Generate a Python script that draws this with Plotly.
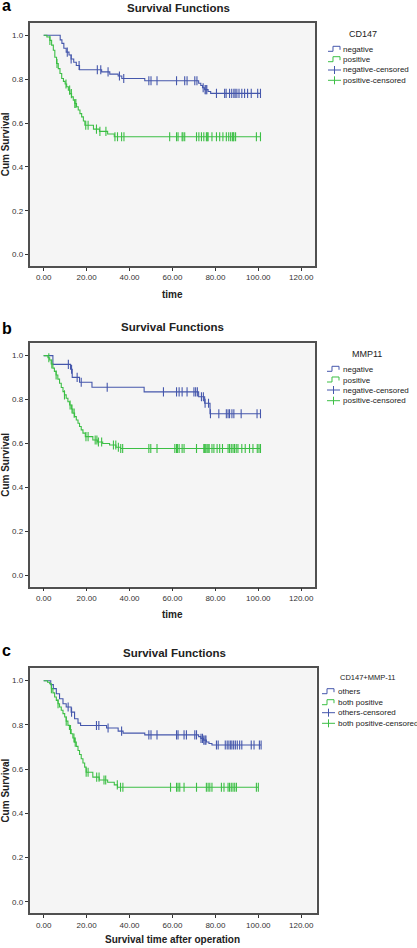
import numpy as np
import plotly.graph_objects as go

# ---------------- data ----------------
# Panel a : CD147
A_NEG_T = [0, 7.7, 8.5, 9.4, 10.5, 11.8, 12.8, 14.0, 15.2, 16.7, 27.0, 30.8, 34.7, 36.4, 47.1,
           72.2, 73.2, 74.0, 75.0, 76.6, 77.8, 101.0]
A_NEG_S = [1.0, 0.979, 0.963, 0.941, 0.923, 0.910, 0.892, 0.877, 0.862, 0.843, 0.833, 0.823, 0.814,
           0.803, 0.793, 0.781, 0.771, 0.761, 0.752, 0.744, 0.735, 0.735]
A_NEG_C = [11.0, 12.8, 16.5, 25.0, 26.6, 30.0, 35.3, 37.3, 49.0, 50.0, 52.8, 61.9, 65.7, 66.8, 70.4,
           71.4, 74.3, 75.2, 75.6, 76.0, 80.5, 84.3, 85.0, 86.6, 87.6, 88.6, 89.2, 90.0, 91.0, 92.3,
           93.6, 95.0, 96.7, 99.7, 101.0]
A_POS_T = [0, 1.5, 2.9, 3.7, 4.5, 5.2, 6.0, 6.8, 7.6, 8.4, 9.2, 10.0, 10.7, 11.5, 12.2, 13.0, 13.8,
           14.5, 15.3, 16.1, 16.9, 17.7, 18.5, 19.2, 23.2, 26.0, 29.8, 32.9, 101.0]
A_POS_S = [1.0, 0.992, 0.977, 0.955, 0.932, 0.900, 0.871, 0.848, 0.826, 0.803, 0.790, 0.778, 0.765,
           0.750, 0.734, 0.719, 0.704, 0.689, 0.674, 0.659, 0.643, 0.628, 0.609, 0.590, 0.572,
           0.562, 0.550, 0.537, 0.537]
A_POS_C = [2.9, 6.2, 10.4, 12.1, 12.9, 14.5, 15.0, 19.6, 20.7, 24.6, 26.2, 29.0, 33.2, 34.4, 36.3,
           37.4, 58.7, 61.9, 62.6, 64.5, 64.9, 65.7, 71.2, 72.3, 73.5, 74.6, 75.8, 76.2, 76.6, 78.4,
           80.5, 82.0, 83.5, 85.1, 86.2, 87.1, 87.9, 88.3, 88.6, 89.4, 99.1, 101.0]

# Panel b : MMP11
B_NEG_T = [0, 4.3, 12.5, 13.3, 16.7, 22.5, 46.8, 72.2, 75.0, 77.5, 101.0]
B_NEG_S = [1.0, 0.960, 0.938, 0.901, 0.879, 0.856, 0.835, 0.813, 0.783, 0.735, 0.735]
B_NEG_C = [11.5, 13.0, 15.6, 17.5, 29.6, 55.8, 61.9, 63.1, 64.5, 66.8, 70.0, 70.8, 71.6, 73.5,
           74.4, 75.2, 76.8, 77.7, 81.6, 85.1, 85.9, 86.6, 87.7, 88.6, 92.0, 99.4, 101.0]
B_POS_T = [0, 2.0, 2.8, 3.5, 4.3, 5.0, 5.8, 6.6, 7.4, 8.2, 9.0, 9.7, 10.5, 11.3, 12.1, 12.9, 13.6,
           14.4, 15.2, 16.0, 16.7, 17.5, 18.3, 19.4, 22.9, 25.0, 27.5, 30.7, 33.7, 35.8, 101.0]
B_POS_S = [1.0, 0.990, 0.980, 0.962, 0.943, 0.928, 0.912, 0.893, 0.874, 0.855, 0.836, 0.821, 0.806,
           0.790, 0.775, 0.757, 0.738, 0.722, 0.707, 0.692, 0.677, 0.662, 0.647, 0.631, 0.616,
           0.607, 0.600, 0.593, 0.583, 0.577, 0.577]
B_POS_C = [2.4, 3.8, 5.8, 9.7, 12.3, 13.2, 14.2, 19.7, 20.7, 24.0, 24.8, 25.5, 27.0, 32.5, 33.6,
           34.8, 35.9, 36.8, 49.0, 49.9, 52.8, 61.1, 61.9, 62.3, 63.1, 64.5, 65.4, 71.2, 74.6, 75.0,
           75.5, 76.1, 76.6, 77.1, 78.4, 79.3, 80.8, 82.0, 83.3, 85.9, 86.6, 87.4, 88.2, 88.9, 89.7,
           90.5, 92.3, 93.9, 95.9, 97.5, 99.5, 100.3, 101.0]

# Panel c : CD147+MMP-11
C_OTH_T = [0, 3.3, 4.5, 5.9, 7.4, 9.0, 10.5, 12.8, 14.4, 16.0, 17.2, 29.3, 34.7, 37.0, 47.1, 72.2,
           73.2, 74.5, 75.8, 77.0, 78.4, 101.3]
C_OTH_S = [1.0, 0.982, 0.964, 0.941, 0.918, 0.896, 0.881, 0.858, 0.828, 0.808, 0.797, 0.786, 0.772,
           0.763, 0.755, 0.747, 0.739, 0.731, 0.723, 0.716, 0.709, 0.709]
C_OTH_C = [11.4, 13.0, 24.6, 25.7, 30.0, 36.3, 49.0, 50.0, 52.8, 61.9, 62.6, 65.4, 66.5, 70.4, 71.2,
           73.3, 74.0, 74.6, 75.2, 75.6, 80.5, 81.3, 84.6, 85.5, 86.3, 87.1, 87.7, 88.5, 89.3, 90.2,
           91.3, 92.3, 96.7, 98.0, 100.5, 101.3]
C_POS_T = [0, 1.8, 2.8, 3.6, 4.3, 5.1, 5.9, 6.7, 7.4, 8.2, 9.0, 9.8, 10.5, 11.3, 12.0, 12.8, 13.6,
           14.4, 15.2, 16.0, 16.7, 17.5, 18.3, 19.1, 19.8, 22.9, 25.9, 29.8, 32.9, 34.4, 100.0]
C_POS_S = [1.0, 0.993, 0.986, 0.964, 0.945, 0.926, 0.911, 0.896, 0.881, 0.866, 0.851, 0.836, 0.817,
           0.798, 0.779, 0.760, 0.741, 0.722, 0.703, 0.684, 0.666, 0.647, 0.628, 0.609, 0.586,
           0.564, 0.551, 0.541, 0.529, 0.518, 0.518]
C_POS_C = [3.6, 6.7, 10.5, 12.5, 14.1, 14.7, 19.8, 20.7, 24.7, 25.8, 28.1, 28.9, 34.3, 35.8, 36.9,
           59.1, 61.9, 62.6, 63.4, 65.4, 71.2, 75.8, 76.6, 77.4, 78.4, 82.8, 84.0, 85.9, 86.6, 87.4,
           88.2, 89.0, 89.8, 99.1, 100.0]

PANEL_LETTERS = ["a", "b", "c"]
LEGEND_TITLES = ["CD147", "MMP11", "CD147+MMP-11"]
GROUP_NAMES = [["negative", "positive"], ["negative", "positive"], ["others", "both positive"]]
X_TITLES = ["time", "time", "Survival time after operation"]
CHART_TITLE = "Survival Functions"
Y_TITLE = "Cum Survival"

# ---------------- styling / layout ----------------
W, H = 417, 948
BLUE = "#4557ac"
GREEN = "#3cbf45"
FONT = "Liberation Sans, Arial, sans-serif"
TXT = "#222222"


def px(x):
    return x / W


def py(y):
    return 1 - y / H


panels = [
    dict(box=(29.5, 23.0, 315.0, 266.0), xr=[-6.6, 126.4],
         letter_y=5.5, title=(178.8, 7.7), xt_y=294.5,
         lg_title=(362.7, 34.0, 9), lg_x=328.0, lg_tx=341.7, lg_y=[49.3, 59.7, 70.0, 80.3],
         data=(A_NEG_T, A_NEG_S, A_NEG_C, A_POS_T, A_POS_S, A_POS_C)),
    dict(box=(29.5, 343.3, 315.0, 586.7), xr=[-6.6, 126.4],
         letter_y=329.0, title=(172.0, 326.7), xt_y=614.8,
         lg_title=(366.7, 354.0, 9), lg_x=327.0, lg_tx=341.7, lg_y=[369.3, 380.0, 390.0, 400.7],
         data=(B_NEG_T, B_NEG_S, B_NEG_C, B_POS_T, B_POS_S, B_POS_C)),
    dict(box=(29.5, 668.3, 316.5, 913.3), xr=[-6.6, 127.1],
         letter_y=650.5, title=(174.0, 653.3), xt_y=939.5,
         lg_title=(367.5, 677.5, 7.5), lg_x=322.0, lg_tx=336.7, lg_y=[691.7, 702.7, 712.7, 723.3],
         data=(C_OTH_T, C_OTH_S, C_OTH_C, C_POS_T, C_POS_S, C_POS_C)),
]


def step_value(times, surv, t):
    idx = np.searchsorted(np.asarray(times), np.asarray(t), side="right") - 1
    return np.asarray(surv)[idx]


fig = go.Figure()
annotations = []
shapes = []


def ann(text, x, y, size, xanchor="center", angle=0, color=TXT):
    annotations.append(dict(text=text, x=px(x), y=py(y), xref="paper", yref="paper",
                            xanchor=xanchor, yanchor="middle", showarrow=False, textangle=angle,
                            borderpad=0, font=dict(family=FONT, size=size, color=color)))


for i, p in enumerate(panels):
    n = "" if i == 0 else str(i + 1)
    xa, ya = "x" + n, "y" + n
    x0, y0, x1, y1 = p["box"]
    nt, ns, nc, pt, ps, pc = p["data"]

    for (tt, ss, cc, col) in [(nt, ns, nc, BLUE), (pt, ps, pc, GREEN)]:
        fig.add_trace(go.Scatter(x=tt, y=ss, mode="lines", line=dict(color=col, width=1.1, shape="hv"),
                                 xaxis=xa, yaxis=ya, showlegend=False, hoverinfo="skip"))
        fig.add_trace(go.Scatter(x=cc, y=step_value(tt, ss, cc), mode="markers",
                                 marker=dict(symbol="line-ns", size=6.5,
                                             line=dict(color=col, width=1.1)),
                                 xaxis=xa, yaxis=ya, showlegend=False, hoverinfo="skip"))

    axis_common = dict(showgrid=False, zeroline=False, showline=True, mirror=True,
                       linecolor="#505050", linewidth=1.5, ticks="outside", ticklen=3,
                       tickcolor="#333333", tickwidth=1,
                       tickfont=dict(family=FONT, size=8, color="#333333"))
    fig.update_layout(**{
        ("xaxis" + n): dict(domain=[px(x0), px(x1)], range=p["xr"], anchor=ya,
                             tickvals=[0, 20, 40, 60, 80, 100, 120], tickformat=".2f",
                             **axis_common),
        ("yaxis" + n): dict(domain=[py(y1), py(y0)], range=[-0.052, 1.056], anchor=xa,
                             tickvals=[0, 0.2, 0.4, 0.6, 0.8, 1.0], tickformat=".1f",
                             **axis_common),
    })

    ann("<b>%s</b>" % PANEL_LETTERS[i], 0.5, p["letter_y"], 16, xanchor="left", color="#000")
    ann("<b>%s</b>" % CHART_TITLE, p["title"][0], p["title"][1], 11.5)
    ann("<b>%s</b>" % X_TITLES[i], 172.5, p["xt_y"], 10)
    ann("<b>%s</b>" % Y_TITLE, 5.8, (y0 + y1) / 2, 10, angle=-90)
    lt = p["lg_title"]
    ann(LEGEND_TITLES[i], lt[0], lt[1], lt[2])

    names = GROUP_NAMES[i]
    labels = [names[0], names[1], names[0] + "-censored", names[1] + "-censored"]
    cols = [BLUE, GREEN, BLUE, GREEN]
    for k in range(4):
        yy = p["lg_y"][k]
        lx = p["lg_x"]
        ann(labels[k], p["lg_tx"], yy, 8, xanchor="left")
        if k < 2:
            path = "M %f,%f L %f,%f L %f,%f L %f,%f L %f,%f" % (
                px(lx), py(yy + 2), px(lx + 5), py(yy + 2), px(lx + 5), py(yy - 3),
                px(lx + 12), py(yy - 3), px(lx + 12), py(yy + 0.5))
            shapes.append(dict(type="path", path=path, xref="paper", yref="paper",
                               line=dict(color=cols[k], width=1)))
        else:
            shapes.append(dict(type="line", x0=px(lx), x1=px(lx + 13), y0=py(yy), y1=py(yy),
                               xref="paper", yref="paper", line=dict(color=cols[k], width=1)))
            shapes.append(dict(type="line", x0=px(lx + 6.5), x1=px(lx + 6.5), y0=py(yy - 4),
                               y1=py(yy + 4), xref="paper", yref="paper",
                               line=dict(color=cols[k], width=1)))

fig.update_layout(
    width=W, height=H, margin=dict(l=0, r=0, t=0, b=0),
    paper_bgcolor="white", plot_bgcolor="#f5f5f5",
    showlegend=False, annotations=annotations, shapes=shapes,
    font=dict(family=FONT),
)

fig.write_html("out.html", config={"displayModeBar": False},
               post_script="document.body.style.margin='0px';document.body.style.overflow='hidden';")
